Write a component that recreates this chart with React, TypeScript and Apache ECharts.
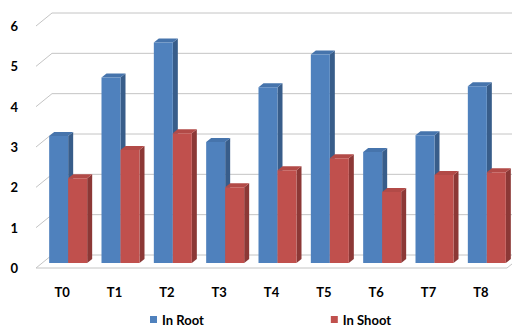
import React, { useEffect, useRef } from "react";
import * as echarts from "echarts";

const categories = ["T0", "T1", "T2", "T3", "T4", "T5", "T6", "T7", "T8"];
const inRoot = [3.15, 4.6, 5.47, 3.0, 4.36, 5.17, 2.75, 3.17, 4.38];
const inShoot = [2.1, 2.8, 3.22, 1.88, 2.3, 2.6, 1.76, 2.18, 2.25];
const yTicks = [0, 1, 2, 3, 4, 5, 6];
const seriesNames = ["In Root", "In Shoot"];

const FONT = "Lato, 'Liberation Sans', sans-serif";
const BACK = [16, -13];
const BARPLANE = [6, -5];
const DEPTH = [5, -4];
const BAR_W = 19;

const palettes = [
  { front: "#4F81BD", side: "#385D8A", top: "#4674AC" },
  { front: "#C0504D", side: "#8C3836", top: "#B24A47" },
];

function makeBarSeries(idx: number, values: number[]) {
  const pal = palettes[idx];
  return {
    name: seriesNames[idx],
    type: "custom",
    z: 5 + idx,
    itemStyle: { color: pal.front },
    data: values.map((v, i) => [i, v]),
    renderItem: (params: any, api: any) => {
      const c = api.value(0);
      const v = api.value(1);
      const pTop = api.coord([c, v]);
      const pBot = api.coord([c, 0]);
      const cx = pTop[0] + BARPLANE[0];
      const x1 = idx === 0 ? cx - BAR_W : cx;
      const x2 = x1 + BAR_W;
      const yT = pTop[1] + BARPLANE[1];
      const yB = pBot[1] + BARPLANE[1];
      return {
        type: "group",
        children: [
          {
            type: "polygon",
            shape: {
              points: [
                [x2, yT],
                [x2 + DEPTH[0], yT + DEPTH[1]],
                [x2 + DEPTH[0], yB + DEPTH[1]],
                [x2, yB],
              ],
            },
            style: { fill: pal.side },
          },
          {
            type: "polygon",
            shape: {
              points: [
                [x1, yT],
                [x1 + DEPTH[0], yT + DEPTH[1]],
                [x2 + DEPTH[0], yT + DEPTH[1]],
                [x2, yT],
              ],
            },
            style: { fill: pal.top },
          },
          {
            type: "rect",
            shape: { x: x1, y: yT, width: BAR_W, height: yB - yT },
            style: { fill: pal.front },
          },
        ],
      };
    },
  };
}

export default function App() {
  const ref = useRef<HTMLDivElement>(null);
  useEffect(() => {
    document.body.style.margin = "0";
    if (!ref.current) return;
    const chart = echarts.init(ref.current, null, { renderer: "svg" });
    chart.setOption({
      animation: false,
      backgroundColor: "#ffffff",
      grid: { left: 36, right: 5, top: 26, bottom: 59 },
      legend: {
        data: seriesNames,
        left: 150,
        top: 313,
        padding: 0,
        itemWidth: 7,
        itemHeight: 7,
        itemGap: 127,
        icon: "rect",
        textStyle: { fontFamily: FONT, fontWeight: "bold", fontSize: 13, color: "#000" },
      },
      xAxis: {
        type: "category",
        data: categories,
        axisLine: { show: false },
        axisTick: { show: false },
        axisLabel: { margin: 17, fontFamily: FONT, fontWeight: "bold", fontSize: 13, color: "#000" },
      },
      yAxis: {
        type: "value",
        min: 0,
        max: 6,
        interval: 1,
        splitLine: { show: false },
        axisLine: { show: false },
        axisLabel: { margin: 18, fontFamily: FONT, fontWeight: "bold", fontSize: 13, color: "#000" },
      },
      series: [
        {
          type: "custom",
          name: "grid",
          z: 1,
          silent: true,
          data: yTicks.map((v) => [0, v]),
          renderItem: (params: any, api: any) => {
            const cs = params.coordSys;
            const y = api.coord([0, api.value(1)])[1];
            const left = cs.x;
            const right = cs.x + cs.width;
            const children: any[] = [
              {
                type: "polyline",
                shape: {
                  points: [
                    [left, y],
                    [left + BACK[0], y + BACK[1]],
                    [right + BACK[0], y + BACK[1]],
                  ],
                },
                style: { stroke: "#C4C4C4", lineWidth: 1, fill: null },
              },
            ];
            if (api.value(1) === 0) {
              children.push({
                type: "polyline",
                shape: {
                  points: [
                    [left, y],
                    [right, y],
                    [right + BACK[0], y + BACK[1]],
                  ],
                },
                style: { stroke: "#C4C4C4", lineWidth: 1, fill: null },
              });
            }
            return { type: "group", children };
          },
        },
        makeBarSeries(0, inRoot),
        makeBarSeries(1, inShoot),
      ],
    });
    return () => chart.dispose();
  }, []);
  return <div ref={ref} style={{ width: 512, height: 327 }} />;
}
